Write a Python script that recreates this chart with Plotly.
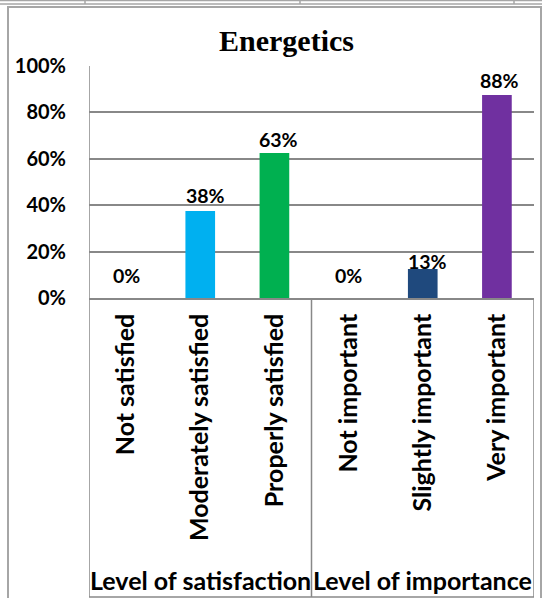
import plotly.graph_objects as go

# ---- data ----
title_text = "Energetics"
groups = ["Level of satisfaction"] * 3 + ["Level of importance"] * 3
categories = ["Not satisfied", "Moderately satisfied", "Properly satisfied",
              "Not important", "Slightly important", "Very important"]
values = [0, 37.5, 62.5, 0, 12.5, 87.5]
value_labels = ["0%", "38%", "63%", "0%", "13%", "88%"]
y_ticks = [0, 20, 40, 60, 80, 100]
y_tick_labels = ["0%", "20%", "40%", "60%", "80%", "100%"]

# ---- style ----
bar_colors = ["#4F81BD", "#00B0F0", "#00B050", "#4F81BD", "#1F497D", "#7030A0"]
label_yshift = [23, 16, 14, 23, 8, 15]
label_xshift = [0, 5, 4, 0, 5, 3]
FONT = "Lato"
LINE = "#888888"
FRAME = "#a6a6a6"

W, H = 542, 598
L, R, T, B = 89, 8, 66, 300
PW, PH = W - L - R, H - T - B


def px(x):
    return (x - L) / PW


def py(y):
    return (H - B - y) / PH


fig = go.Figure()
fig.add_trace(go.Bar(
    x=categories, y=values, marker=dict(color=bar_colors, line=dict(width=0)),
    showlegend=False, hoverinfo="skip"))

annotations = []
for i, (c, v, t) in enumerate(zip(categories, values, value_labels)):
    annotations.append(dict(
        x=c, y=v, xref="x", yref="y", text=t, showarrow=False,
        yanchor="middle", xanchor="center", yshift=label_yshift[i], xshift=label_xshift[i],
        font=dict(family=FONT, size=19.5, color="black", weight="bold")))

# group labels and divider positions computed from the groups list
shapes = []
bounds = [-0.5]
for i in range(1, len(groups)):
    if groups[i] != groups[i - 1]:
        bounds.append(i - 0.5)
bounds.append(len(groups) - 0.5)
for gi in range(len(bounds) - 1):
    lo, hi = bounds[gi], bounds[gi + 1]
    annotations.append(dict(
        x=(lo + hi) / 2, y=py(580), xref="x", yref="paper",
        text=groups[int(lo + 0.5)], showarrow=False, yanchor="middle", xanchor="center",
        font=dict(family=FONT, size=25, color="black", weight="bold")))
for b in bounds:
    shapes.append(dict(type="line", xref="x", yref="paper", x0=b, x1=b,
                       y0=py(597), y1=(0 if b != bounds[0] else 1),
                       line=dict(color=LINE, width=1.5)))
# bottom line of the category boxes
shapes.append(dict(type="line", xref="paper", yref="paper", x0=0, x1=1,
                   y0=py(597), y1=py(597), line=dict(color=LINE, width=1.5)))
# outer frame
shapes.append(dict(type="rect", xref="paper", yref="paper", x0=px(8), x1=px(541),
                   y0=py(605), y1=py(7), line=dict(color=FRAME, width=2)))
# fragments of table above
shapes.append(dict(type="line", xref="paper", yref="paper", x0=px(0), x1=px(542),
                   y0=py(4), y1=py(4), line=dict(color=FRAME, width=1.5)))
shapes.append(dict(type="line", xref="paper", yref="paper", x0=px(0), x1=px(542),
                   y0=py(0.5), y1=py(0.5), line=dict(color=FRAME, width=1.5)))
for xx in [85, 300, 514]:
    shapes.append(dict(type="line", xref="paper", yref="paper", x0=px(xx), x1=px(xx),
                       y0=py(4), y1=py(0), line=dict(color=FRAME, width=1.5)))

fig.update_layout(
    width=W, height=H, autosize=False,
    margin=dict(l=L, r=R, t=T, b=B, pad=0),
    paper_bgcolor="white", plot_bgcolor="white",
    bargap=0.6,
    title=dict(text=title_text, x=286.5 / W, xref="container", xanchor="center",
               y=1 - 40 / H, yref="container", yanchor="middle",
               font=dict(family="Liberation Serif", size=30, color="black", weight="bold")),
    xaxis=dict(type="category", tickangle=-90, showgrid=False, showline=True,
               linecolor=LINE, linewidth=1.5, ticks="", ticklabelstandoff=4,
               tickfont=dict(family=FONT, size=25, color="black", weight="bold"),
               range=[-0.5, len(categories) - 0.5], fixedrange=True, automargin=False),
    yaxis=dict(range=[0, 100], tickvals=y_ticks, ticktext=y_tick_labels,
               showgrid=True, gridcolor=LINE, gridwidth=1.5, zeroline=False,
               showline=False, ticks="", ticklabelstandoff=22,
               tickfont=dict(family=FONT, size=20, color="black", weight="bold"),
               fixedrange=True, automargin=False),
    annotations=annotations, shapes=shapes,
)
fig.write_html("out.html", config={"displayModeBar": False},
               post_script="document.body.style.margin='0';document.body.style.padding='0';")
